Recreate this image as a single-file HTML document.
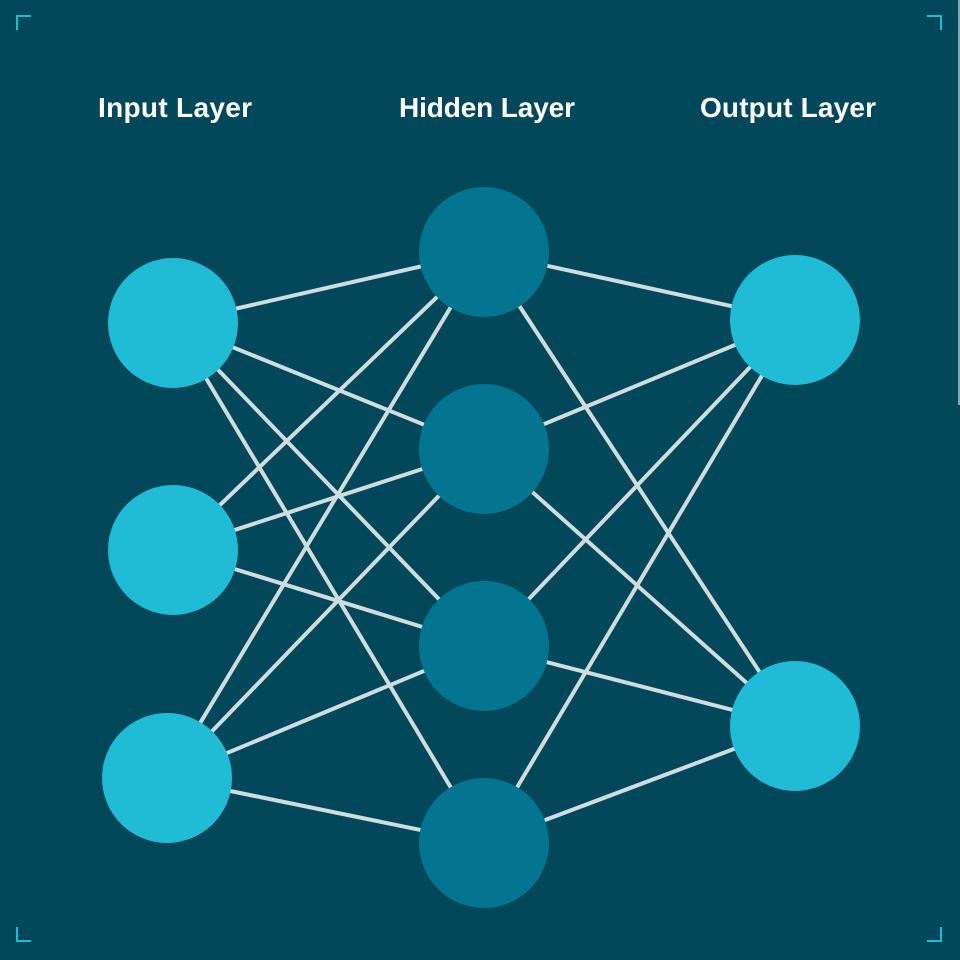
<!DOCTYPE html>
<html><head><style>
html,body{margin:0;padding:0;background:#03475a;}
svg{display:block;}
text{font-family:"Liberation Sans",sans-serif;font-weight:bold;font-size:28px;fill:#fff;}
</style></head><body>
<svg width="960" height="960" viewBox="0 0 960 960" xmlns="http://www.w3.org/2000/svg">
<rect width="960" height="960" fill="#03475a"/>
<line x1="959" y1="0" x2="959" y2="405" stroke="#b0c8cf" stroke-width="1.5"/>
<g stroke="#20bcd5" stroke-width="2" fill="none">
<path d="M17 30 V16 H31"/>
<path d="M927 16 H941 V30"/>
<path d="M17 927 V941 H31"/>
<path d="M927 941 H941 V927"/>
</g>
<text x="175" y="117" text-anchor="middle" textLength="154">Input Layer</text>
<text x="487" y="117" text-anchor="middle" textLength="176">Hidden Layer</text>
<text x="788" y="117" text-anchor="middle" textLength="176">Output Layer</text>
<g stroke="#cfdde0" stroke-width="4">
<line x1="173" y1="323" x2="484" y2="252"/><line x1="173" y1="323" x2="484" y2="449"/><line x1="173" y1="323" x2="484" y2="646"/><line x1="173" y1="323" x2="484" y2="843"/>
<line x1="173" y1="550" x2="484" y2="252"/><line x1="173" y1="550" x2="484" y2="449"/><line x1="173" y1="550" x2="484" y2="646"/>
<line x1="167" y1="778" x2="484" y2="252"/><line x1="167" y1="778" x2="484" y2="449"/><line x1="167" y1="778" x2="484" y2="646"/><line x1="167" y1="778" x2="484" y2="843"/>
<line x1="484" y1="252" x2="795" y2="320"/><line x1="484" y1="252" x2="795" y2="726"/>
<line x1="484" y1="449" x2="795" y2="320"/><line x1="484" y1="449" x2="795" y2="726"/>
<line x1="484" y1="646" x2="795" y2="320"/><line x1="484" y1="646" x2="795" y2="726"/>
<line x1="484" y1="843" x2="795" y2="320"/><line x1="484" y1="843" x2="795" y2="726"/>
</g>
<g fill="#20bcd5">
<circle cx="173" cy="323" r="65"/><circle cx="173" cy="550" r="65"/><circle cx="167" cy="778" r="65"/>
<circle cx="795" cy="320" r="65"/><circle cx="795" cy="726" r="65"/>
</g>
<g fill="#037590">
<circle cx="484" cy="252" r="65"/><circle cx="484" cy="449" r="65"/><circle cx="484" cy="646" r="65"/><circle cx="484" cy="843" r="65"/>
</g>
</svg>
</body></html>
